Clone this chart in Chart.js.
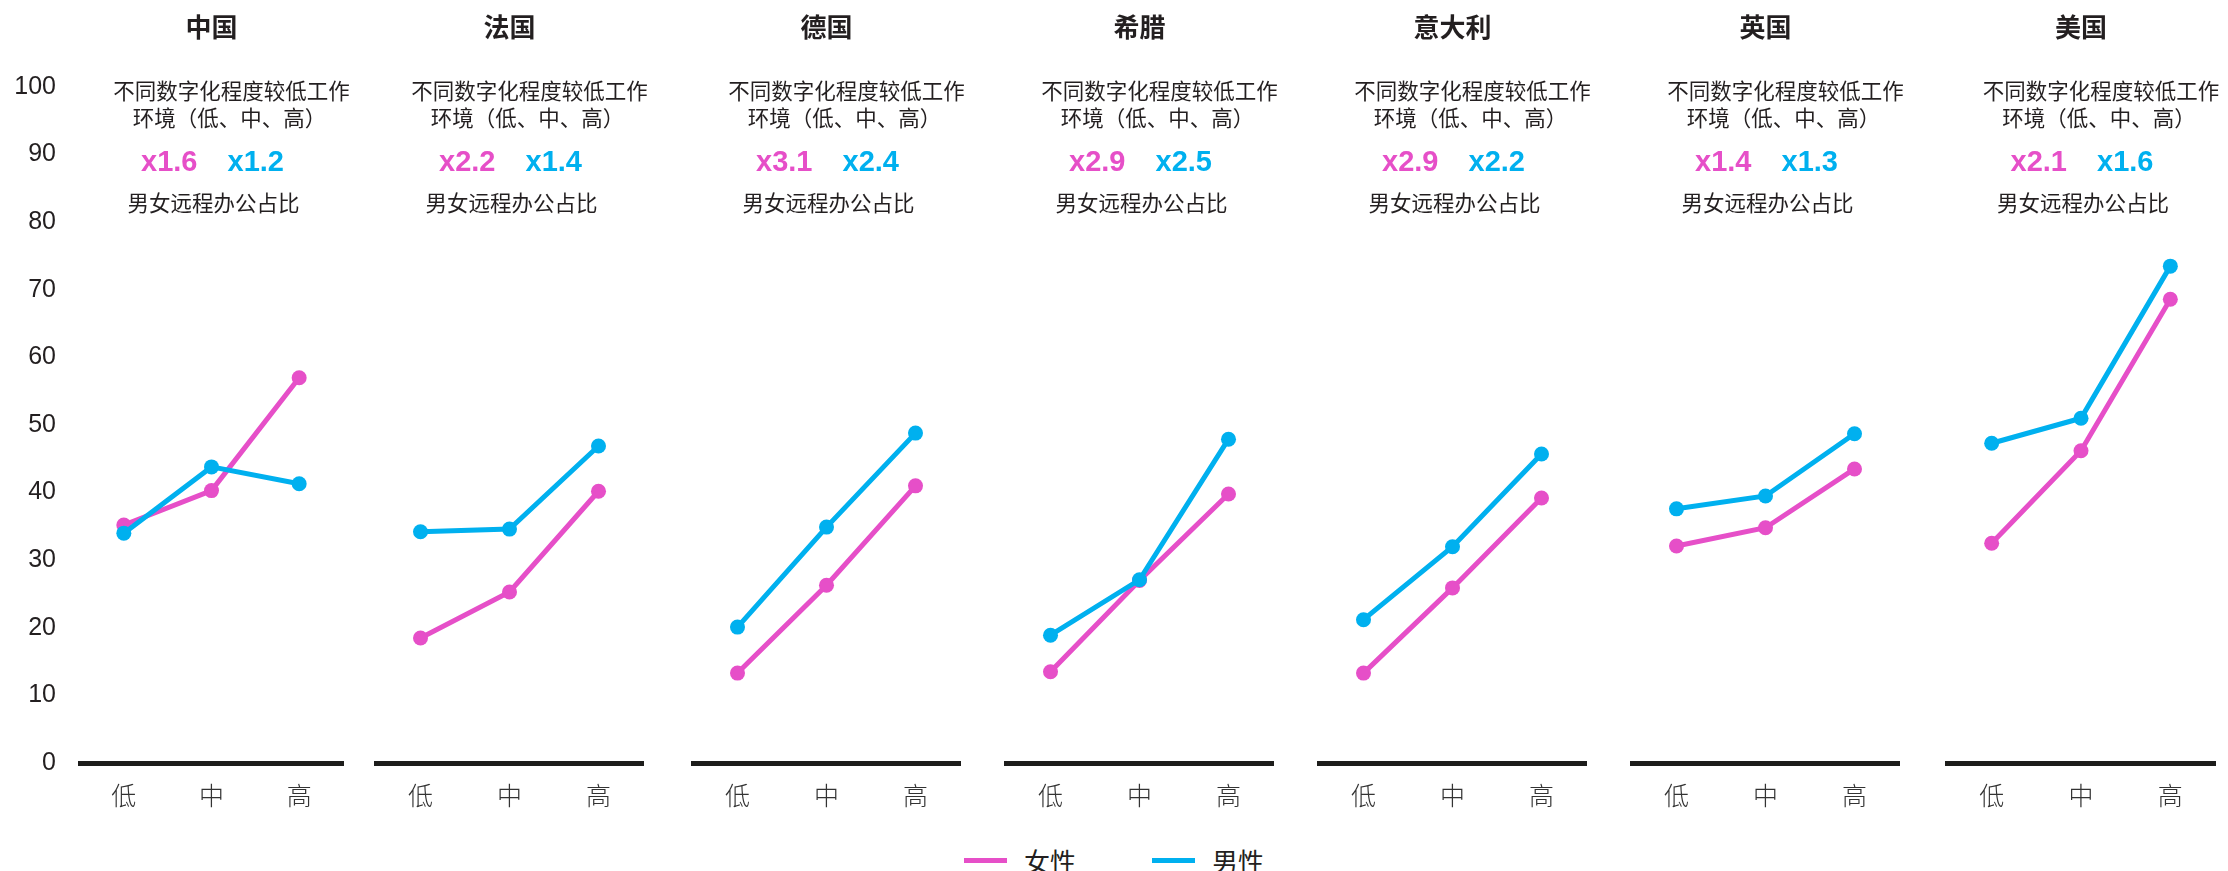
<!DOCTYPE html>
<html>
<head>
<meta charset="utf-8">
<script src="https://cdn.jsdelivr.net/npm/chart.js@4"></script>
<style>
  html, body { margin: 0; padding: 0; background: #fff; }
  #wrap { position: relative; width: 2228px; height: 871px; overflow: hidden; }
  .panel { position: absolute; top: 0; }
  #legend {
    position: absolute; left: 0; top: 845px; width: 2228px; height: 30px;
    display: flex; justify-content: center; align-items: center;
    font-family: "Noto Sans CJK SC", sans-serif; font-size: 26px; color: #231f20;
  }
  #legend .item { display: flex; align-items: center; }
  #legend .swatch { width: 43px; height: 5px; margin-right: 17px; }
</style>
</head>
<body>
<div id="wrap">
  <div id="legend">
    <div class="item"><span class="swatch" style="background:#e64fc8"></span><span>女性</span></div>
    <div class="item" style="margin-left:76px"><span class="swatch" style="background:#00b0ef"></span><span>男性</span></div>
  </div>
</div>
<script>
// data
var categories = ["低", "中", "高"];
var countries = ["中国", "法国", "德国", "希腊", "意大利", "英国", "美国"];
var women = [
  [35.2, 40.3, 57.0],
  [18.5, 25.3, 40.2],
  [13.3, 26.3, 41.0],
  [13.5, 27.0, 39.8],
  [13.3, 25.9, 39.2],
  [32.1, 34.8, 43.5],
  [32.5, 46.2, 68.6]
];
var men = [
  [34.0, 43.8, 41.3],
  [34.2, 34.6, 46.9],
  [20.1, 34.9, 48.8],
  [18.9, 27.1, 47.9],
  [21.2, 32.0, 45.7],
  [37.6, 39.5, 48.7],
  [47.3, 51.0, 73.5]
];
var womenRatio = ["x1.6", "x2.2", "x3.1", "x2.9", "x2.9", "x1.4", "x2.1"];
var menRatio = ["x1.2", "x1.4", "x2.4", "x2.5", "x2.2", "x1.3", "x1.6"];
var noteLine1 = "不同数字化程度较低工作";
var noteLine2 = "环境（低、中、高）";
var noteLine3 = "男女远程办公占比";

var PINK = "#e64fc8";
var BLUE = "#00b0ef";
var TEXT = "#231f20";

// panel placement (left edge of plot area and its width)
var panelLeft = [80, 376, 693, 1006, 1319, 1632, 1947];
var panelWidth = [263, 267, 267, 267, 267, 267, 268];
var H = 830;
var PAD = 25;

var cjk = "'Noto Sans CJK SC', sans-serif";
var latin = "'Liberation Sans', 'Noto Sans CJK SC', sans-serif";

countries.forEach(function(name, i) {
  var first = i === 0;
  var padL = first ? 0 : PAD;
  var yWidth = first ? panelLeft[0] : 0;
  var div = document.createElement("div");
  div.className = "panel";
  var left = first ? 0 : panelLeft[i] - PAD;
  var w = (first ? panelLeft[0] : PAD) + panelWidth[i] + PAD;
  div.style.left = left + "px";
  var canvas = document.createElement("canvas");
  canvas.width = w;
  canvas.height = H;
  div.appendChild(canvas);
  document.getElementById("wrap").appendChild(div);

  var panelText = {
    id: "panelText" + i,
    afterDraw: function(chart) {
      var ctx = chart.ctx;
      var ca = chart.chartArea;
      var cx = (ca.left + ca.right) / 2;
      ctx.save();
      ctx.fillStyle = TEXT;
      ctx.textBaseline = "middle";
      ctx.textAlign = "center";
      ctx.font = "bold 26px " + cjk;
      ctx.fillText(name, cx, 27);
      ctx.font = "21.5px " + cjk;
      ctx.fillText(noteLine1, cx + 20, 91);
      ctx.fillText(noteLine2, cx + 18, 118);
      ctx.fillText(noteLine3, cx + 2, 203);
      ctx.font = "bold 29px " + latin;
      ctx.textAlign = "right";
      ctx.fillStyle = PINK;
      ctx.fillText(womenRatio[i], cx - 14, 163);
      ctx.textAlign = "left";
      ctx.fillStyle = BLUE;
      ctx.fillText(menRatio[i], cx + 16, 163);
      ctx.restore();
    }
  };

  new Chart(canvas, {
    type: "line",
    data: {
      labels: categories,
      datasets: [
        {
          label: "女性",
          data: women[i],
          borderColor: PINK,
          backgroundColor: PINK,
          borderWidth: 5,
          pointRadius: 7.5,
          pointBorderWidth: 0,
          pointBackgroundColor: PINK,
          tension: 0,
          order: 1
        },
        {
          label: "男性",
          data: men[i],
          borderColor: BLUE,
          backgroundColor: BLUE,
          borderWidth: 5,
          pointRadius: 7.5,
          pointBorderWidth: 0,
          pointBackgroundColor: BLUE,
          tension: 0,
          order: 0
        }
      ]
    },
    options: {
      responsive: false,
      animation: false,
      layout: { padding: { top: 87, left: padL, right: PAD, bottom: 0 } },
      plugins: { legend: { display: false }, tooltip: { enabled: false } },
      scales: {
        x: {
          type: "category",
          offset: true,
          grid: { display: false, drawTicks: false },
          border: { display: true, color: "#1d1d1b", width: 5 },
          ticks: {
            color: "#333",
            padding: 17,
            font: { family: cjk, size: 25, weight: 300 }
          },
          afterFit: function(scale) { scale.height = H - 763; }
        },
        y: {
          display: first,
          min: 0,
          max: 100,
          grid: { display: false, drawTicks: false },
          border: { display: false },
          ticks: {
            stepSize: 10,
            color: TEXT,
            padding: 24,
            font: { family: latin, size: 25 }
          },
          afterFit: function(scale) { scale.width = yWidth; }
        }
      }
    },
    plugins: [panelText]
  });
});
</script>
</body>
</html>
